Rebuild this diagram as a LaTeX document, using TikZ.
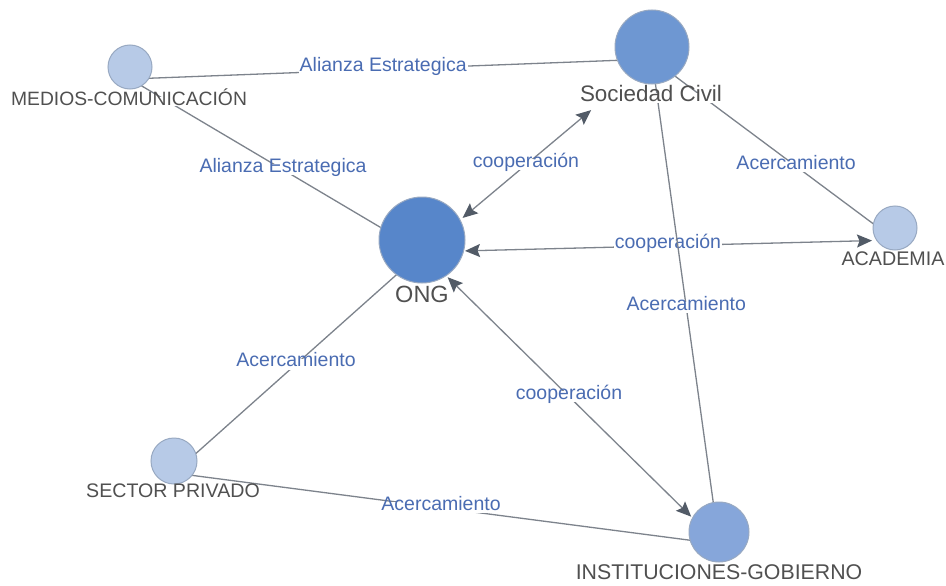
\documentclass[tikz,border=0pt]{standalone}
\usepackage{fontspec}
\setmainfont{Liberation Sans}
\usetikzlibrary{arrows.meta}
\definecolor{edgegray}{HTML}{7D838C}
\definecolor{tipgray}{HTML}{525B67}
\definecolor{lblblue}{HTML}{4A6CB2}
\definecolor{txtgray}{HTML}{505050}
\definecolor{darkblue}{HTML}{5786CA}
\definecolor{midblue}{HTML}{6E97D2}
\definecolor{instblue}{HTML}{86A6DA}
\definecolor{lightblue}{HTML}{B7CAE7}
\definecolor{rimgray}{HTML}{98A9C2}
\begin{document}
\begin{tikzpicture}[x=1pt,y=-1pt,
  vertex/.style={circle, draw=rimgray, line width=1pt, inner sep=0pt, minimum size=#1},
  nlabel/.style={text=txtgray, fill=white, inner sep=1pt, text height=.72em, text depth=0pt,
    font=\fontsize{#1}{#1}\selectfont},
  elabel/.style={text=lblblue, fill=white, inner sep=1pt, text height=.74em, text depth=.2em,
    font=\fontsize{19.5pt}{20pt}\selectfont, pos=#1},
  link/.style={draw=edgegray, line width=1.3pt},
  bidir/.style={link, arrows={Stealth[length=15pt,width=13pt,inset=2.5pt,color=tipgray]-Stealth[length=15pt,width=13pt,inset=2.5pt,color=tipgray]}}
]
\fill[white] (0,0) rectangle (946,586);
\useasboundingbox (0,0) rectangle (946,586);

% anchor points of connectors
\coordinate (mA) at (130,79);
\coordinate (sA) at (652,59);
\coordinate (oA) at (422,252);
\coordinate (aA) at (895,240);
\coordinate (pA) at (174,473);
\coordinate (gA) at (719,544);

% connectors
\draw[link] (mA) -- node[elabel=0.485] {Alianza Estrategica} (sA);
\draw[link] (mA) -- node[elabel=0.524] {Alianza Estrategica} (oA);
\draw[bidir, shorten <=53pt, shorten >=79.5pt] (oA) -- node[elabel=0.452] {cooperación} (sA);
\draw[link] (sA) -- node[elabel=0.593] {Acercamiento} (aA);
\draw[bidir, shorten <=43pt, shorten >=23pt] (oA) -- node[elabel=0.52] {cooperación} (aA);
\draw[link] (pA) -- node[elabel=0.492] {Acercamiento} (oA);
\draw[bidir, shorten <=36pt, shorten >=39pt] (oA) -- node[elabel=0.495] {cooperación} (gA);
\draw[link] (pA) -- node[elabel=0.49] {Acercamiento} (gA);
\draw[link] (sA) -- node[elabel=0.512] {Acercamiento} (gA);

% nodes
\node[vertex=44pt, fill=lightblue] (medios) at (130,67) {};
\node[vertex=74pt, fill=midblue] (soc) at (652,47) {};
\node[vertex=86pt, fill=darkblue] (ong) at (422,240) {};
\node[vertex=44pt, fill=lightblue] (acad) at (895,228) {};
\node[vertex=46pt, fill=lightblue] (priv) at (174,461) {};
\node[vertex=60pt, fill=instblue] (inst) at (719,532) {};

% node labels
\node[nlabel=19.3pt] (mediosl) at (129,101.6) {MEDIOS-COMUNICACIÓN};
\node[nlabel=22.4pt] (socl) at (651,98) {Sociedad Civil};
\node[nlabel=23.5pt] (ongl) at (422,299) {ONG};
\node[nlabel=19.7pt] (acadl) at (893,261.6) {ACADEMIA};
\node[nlabel=19.6pt] (privl) at (173,494) {SECTOR PRIVADO};
\node[nlabel=21.3pt] (instl) at (719,575.5) {INSTITUCIONES-GOBIERNO};
\end{tikzpicture}
\end{document}
